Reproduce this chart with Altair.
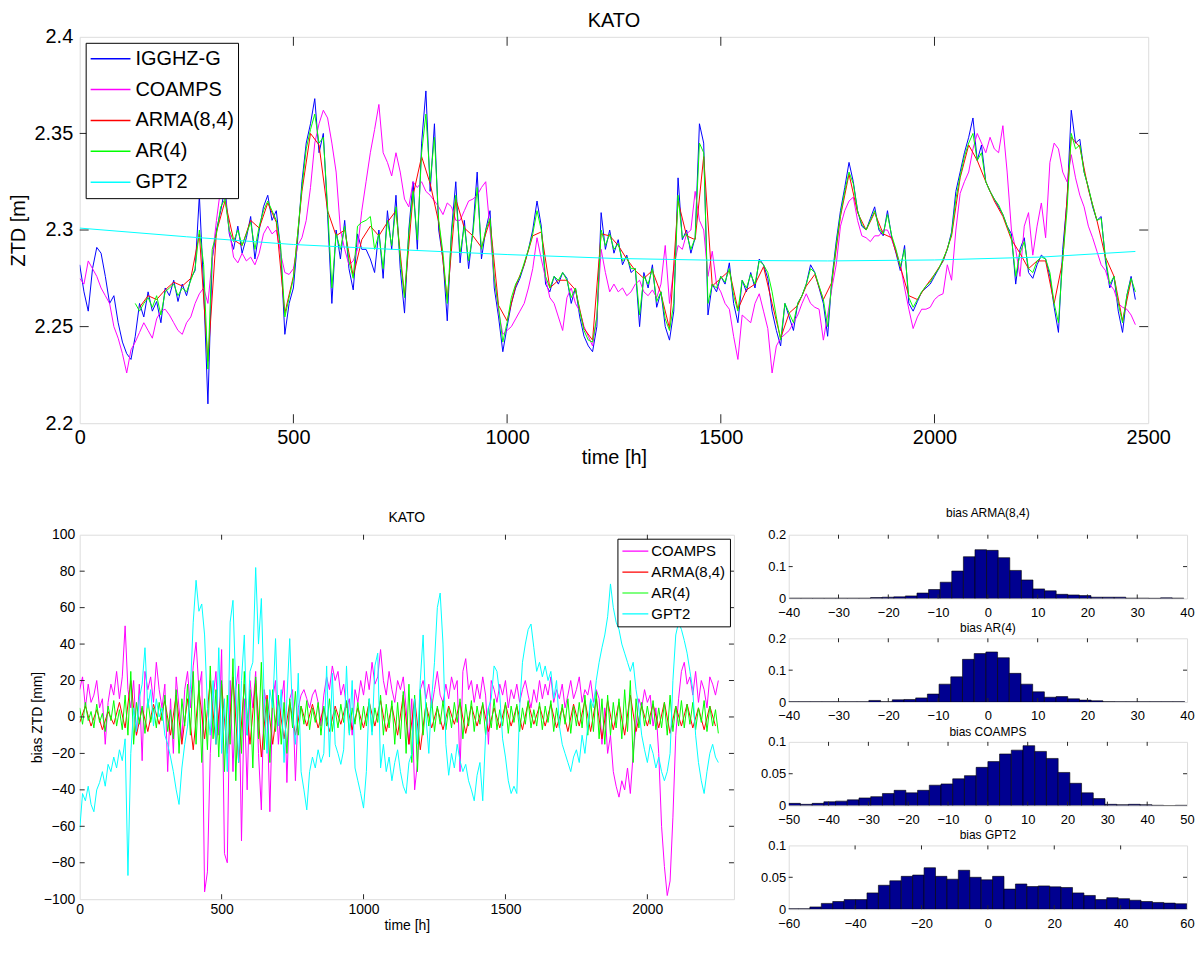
import altair as alt
import pandas as pd

# ---------------- top panel: ZTD [mm], 10 h steps ----------------
igg_start, igg_step = 0, 10
igg_mm = [
    2282, 2268, 2258, 2280, 2291, 2288, 2276, 2262, 2266, 2252,
    2242, 2236, 2233, 2245, 2262, 2255, 2268, 2258, 2263, 2252,
    2270, 2266, 2274, 2263, 2272, 2266, 2275, 2279, 2318, 2270,
    2210, 2285, 2300, 2310, 2322, 2298, 2290, 2302, 2288, 2296,
    2307, 2285, 2300, 2312, 2318, 2305, 2310, 2290, 2246, 2262,
    2270, 2295, 2325, 2345, 2355, 2368, 2340, 2350, 2308, 2262,
    2300, 2285, 2305, 2280, 2269, 2298, 2290, 2290, 2285, 2278,
    2300, 2275, 2310, 2290, 2318, 2280, 2257, 2300, 2325, 2290,
    2345, 2372, 2320, 2355, 2300, 2285, 2253, 2300, 2325, 2283,
    2305, 2280, 2300, 2330, 2285, 2300, 2310, 2270, 2255, 2237,
    2250, 2262, 2270, 2275, 2282, 2290, 2300, 2315, 2302, 2272,
    2268, 2276, 2272, 2278, 2275, 2262, 2270, 2255, 2245, 2240,
    2237, 2250, 2309, 2290, 2300, 2288, 2295, 2282, 2287, 2278,
    2280, 2250, 2278, 2270, 2282, 2260, 2268, 2250, 2243, 2258,
    2327, 2295, 2300, 2288, 2296, 2355, 2345, 2256, 2272, 2268,
    2276, 2272, 2283, 2262, 2252, 2274, 2268, 2278, 2270, 2285,
    2282, 2275, 2258, 2248, 2240, 2262, 2255, 2248, 2262, 2266,
    2272, 2282, 2278, 2270, 2262, 2245, 2275, 2294, 2310, 2322,
    2335, 2325, 2310, 2302, 2300, 2306, 2312, 2300, 2297, 2310,
    2296, 2288, 2279, 2292, 2262, 2258, 2263, 2268, 2270, 2272,
    2276, 2280, 2284, 2290, 2299, 2320, 2330, 2340, 2348, 2358,
    2336, 2344, 2325, 2320, 2316, 2312, 2308, 2302, 2298, 2272,
    2290, 2296, 2278, 2275, 2282, 2287, 2285, 2276, 2260, 2247,
    2290, 2315, 2362, 2345, 2347, 2330, 2322, 2312, 2305, 2307,
    2284, 2270, 2276, 2258, 2247, 2266, 2276, 2264,
]

coamps_start, coamps_step = 0, 10
coamps_mm = [
    2275, 2272, 2284, 2280, 2276, 2270, 2266, 2262, 2250, 2244,
    2236, 2226, 2238, 2242, 2247, 2252, 2248, 2244, 2254, 2258,
    2259, 2256, 2252, 2248, 2246, 2252, 2255, 2262, 2267, 2270,
    2262, 2285, 2305, 2322, 2318, 2300, 2286, 2283, 2288, 2284,
    2286, 2282, 2288, 2298, 2302, 2298, 2300, 2288, 2278, 2277,
    2280, 2292, 2296, 2305, 2322, 2345, 2355, 2362, 2358, 2345,
    2330, 2300, 2290, 2282, 2284, 2290, 2310, 2325, 2340, 2352,
    2365, 2340, 2335, 2328, 2340, 2330, 2316, 2312, 2325, 2322,
    2325, 2320, 2318, 2315, 2312, 2308, 2314, 2312, 2305, 2305,
    2310, 2315, 2316, 2318, 2322, 2325, 2300, 2275, 2258, 2246,
    2248, 2250, 2254, 2258, 2262, 2270, 2280, 2296, 2285, 2275,
    2265, 2262, 2255, 2248, 2265, 2270, 2262, 2258, 2250, 2245,
    2240, 2255, 2290, 2278, 2268, 2272, 2268, 2270, 2266, 2268,
    2272, 2274, 2268, 2266, 2269, 2265, 2272, 2292, 2262, 2280,
    2292, 2290, 2298, 2300, 2320, 2305, 2300, 2276, 2289, 2272,
    2268, 2262, 2259, 2245, 2233, 2256, 2254, 2252, 2262, 2267,
    2258, 2249, 2226, 2240, 2244, 2246, 2248, 2252, 2256, 2262,
    2267, 2262, 2260, 2259, 2243, 2256, 2270, 2282, 2302, 2310,
    2315, 2317, 2305, 2297, 2296, 2294, 2297, 2297, 2300, 2300,
    2295, 2289, 2282, 2270, 2259, 2249, 2255, 2259, 2259, 2260,
    2264, 2266, 2267, 2282, 2274, 2300, 2319, 2325, 2330, 2342,
    2350, 2345, 2340, 2348, 2342, 2340, 2354, 2330, 2300, 2290,
    2276, 2302, 2309, 2287, 2302, 2314, 2296, 2335, 2345, 2342,
    2330, 2325, 2339, 2327, 2318, 2312, 2302, 2296, 2289, 2282,
    2279, 2272, 2269, 2262, 2260, 2259, 2256, 2251,
]

arma_start, arma_step = 140, 20
arma_mm = [
    2260, 2266, 2264, 2269, 2273, 2271, 2275, 2298,
    2232, 2299, 2315, 2295, 2292, 2305, 2301, 2314, 2304, 2257,
    2276, 2320, 2350, 2344, 2310, 2297, 2300, 2276, 2295, 2302,
    2297, 2304, 2310, 2266, 2318, 2338, 2324, 2304, 2264, 2316,
    2301, 2297, 2291, 2305, 2261, 2253, 2271, 2282, 2297, 2299,
    2270, 2274, 2274, 2269, 2249, 2243, 2298, 2297, 2292, 2285,
    2279, 2275, 2279, 2267, 2249, 2315, 2297, 2295, 2338, 2271,
    2275, 2279, 2259, 2269, 2272, 2281, 2262, 2244, 2257, 2261,
    2271, 2277, 2264, 2273, 2307, 2329, 2309, 2300, 2309, 2298,
    2296, 2281, 2266, 2264, 2271, 2277, 2284, 2297, 2327, 2344,
    2336, 2325, 2315, 2307, 2295, 2288, 2280, 2284, 2284, 2262,
    2284, 2348, 2343, 2321, 2305, 2286, 2276, 2253, 2274,
]

ar_start, ar_step = 130, 10
ar_mm = [
    2262, 2258, 2262, 2265, 2260, 2266, 2256,
    2268, 2270, 2272, 2266, 2270, 2268, 2274, 2280, 2300, 2282,
    2228, 2290, 2298, 2312, 2316, 2300, 2294, 2300, 2292, 2298,
    2304, 2290, 2302, 2310, 2315, 2310, 2305, 2292, 2255, 2265,
    2275, 2298, 2322, 2342, 2352, 2360, 2345, 2348, 2312, 2270,
    2298, 2290, 2302, 2284, 2275, 2302, 2304, 2305, 2307, 2290,
    2298, 2280, 2305, 2292, 2312, 2285, 2265, 2298, 2320, 2295,
    2340, 2360, 2325, 2348, 2305, 2288, 2262, 2298, 2318, 2288,
    2302, 2284, 2298, 2322, 2290, 2300, 2306, 2275, 2260, 2242,
    2252, 2265, 2272, 2276, 2283, 2290, 2298, 2310, 2300, 2276,
    2270, 2276, 2274, 2278, 2274, 2265, 2270, 2258, 2248, 2243,
    2242, 2255, 2300, 2292, 2298, 2290, 2293, 2284, 2286, 2280,
    2280, 2256, 2276, 2272, 2280, 2263, 2268, 2254, 2248, 2262,
    2318, 2296, 2298, 2290, 2296, 2345, 2340, 2262, 2272, 2270,
    2276, 2273, 2280, 2266, 2258, 2274, 2270, 2277, 2272, 2284,
    2282, 2278, 2268, 2255, 2243, 2262, 2257, 2252, 2262, 2266,
    2272, 2280, 2278, 2271, 2264, 2250, 2274, 2292, 2308, 2320,
    2330, 2324, 2310, 2303, 2300, 2305, 2310, 2301, 2298, 2308,
    2297, 2290, 2281, 2290, 2265, 2260, 2264, 2268, 2271, 2273,
    2277, 2280, 2285, 2290, 2298, 2316, 2328, 2338, 2345, 2350,
    2336, 2340, 2325, 2320, 2316, 2313, 2308, 2302, 2296, 2276,
    2288, 2294, 2280, 2278, 2284, 2286, 2285, 2278, 2262, 2252,
    2285, 2310, 2350, 2342, 2344, 2330, 2322, 2313, 2305, 2306,
    2286, 2272, 2276, 2262, 2252, 2266, 2275, 2268,
]

gpt2_hours = [0, 250, 500, 750, 1000, 1250, 1500, 1750, 2000, 2250, 2470]
gpt2_mm = [2301.0, 2296.5, 2292.5, 2289.8, 2287.3, 2285.3, 2284.3, 2284.0, 2284.5, 2286.0, 2288.9]

# ---------------- bottom-left: bias ZTD [mm], 10 h steps ----------------
bias_start, bias_step = 0, 10
bias_coamps = [
    15, 22, 5, 18, 8, 12, 20, 5, 10, -15,
    8, 18, 12, 25, 10, 22, 50, 15, 5, 20,
    -10, 18, -24, 25, 15, 22, 8, 30, 15, 5,
    18, -30, 10, -20, 22, 5, -12, 15, 25, 5,
    28, 41, 15, 25, -96, -85, -20, 10, 25, -10,
    37, -75, -80, 20, -30, 15, 28, -68, 10, -40,
    20, 5, 25, -20, -51, 15, 5, -52, 10, 20,
    -15, 8, 20, -36, 10, 15, -35, 5, 12, 15,
    10, 5, 12, 15, 8, -5, 12, 22, 15, 28,
    20, 25, 12, 18, 5, 10, -10, 15, 8, 20,
    12, 25, 15, 30, 18, 22, 37, 20, 12, 25,
    15, 8, 20, 15, 22, 5, -15, 10, -40, -25,
    15, 20, 10, 18, 5, 15, 25, 12, 8, 18,
    10, 22, 15, 20, -30, 25, 32, 15, 20, 8,
    18, 10, 22, 12, -15, 20, 15, 8, 18, 12,
    20, 5, 15, 10, 18, 8, 15, 20, 12, 5,
    15, 8, 20, 10, 18, 12, 22, 8, 15, 10,
    18, 5, 12, 20, 10, 15, 22, 8, 15, 12,
    20, 8, 15, 10, -15, 5, -20, -10, -30, -38,
    -44, -35, -40, -28, -42, -20, -5, 10, 5, 15,
    8, 12, -5, 5, -20, -60, -82, -98, -90, -55,
    -10, 10, 25, 30, 18, 22, 12, 25, 8, 20,
    15, 5, 22, 18, 12, 20,
]

bias_arma_start, bias_arma_step = 0, 20
bias_arma = [
    -3, 6, -5, 4, -7, 3, -4, 8, -6, 20,
    -10, 5, -8, 7, -4, 9, -10, 12, -15, 10,
    -18, 15, -12, 20, -15, 18, -20, 22, -25, 18,
    -15, 20, -22, 12, -15, 10, -12, 8, -10, 6,
    -5, 7, -6, 5, -8, 6, -4, 8, -7, 5,
    -6, 8, -5, 9, -8, 6, -10, 12, -15, 10,
    -18, 7, -6, 5, -7, 6, -4, 8, -9, 6,
    -5, 7, -8, 5, -6, 7, -5, 6, -7, 8,
    -4, 6, -5, 7, -6, 5, -8, 7, -5, 9,
    -8, 10, -12, 9, -7, 8, -10, 12, -8, 6,
    -5, 7, -6, 8, -9, 6, -5, 7, -6, 5,
    -7, 6, -5,
]

bias_ar = [
    5, -4, 8, -2, 3, -6, 7, -3, 2, -8,
    6, -2, 9, -5, 4, -7, 12, -10, 25, -15,
    8, -4, 6, -9, 10, -3, 5, -6, 8, -2,
    12, -8, 4, -12, 15, -20, 10, -5, 18, -10,
    25, -15, 20, -25, 10, -18, 28, -12, 15, -22,
    20, -30, 12, -15, 32, -35, 18, -20, 25, -10,
    15, -28, 22, -12, 30, -18, 10, -25, 15, -8,
    12, -15, 8, -20, 10, -6, 14, -10, 6, -4,
    9, -7, 5, -3, 8, -10, 6, -5, 10, -8,
    4, -6, 7, -3, 9, -9, 5, -4, 8, -7,
    6, -5, 10, -8, 5, -3, 12, -10, 7, -6,
    9, -15, 8, -12, 14, -20, 18, -25, 12, -30,
    15, -10, 8, -5, 10, -8, 6, -4, 9, -7,
    5, -6, 8, -3, 10, -12, 7, -5, 9, -8,
    6, -4, 8, -10, 5, -6, 10, -7, 4, -5,
    8, -9, 6, -3, 7, -8, 5, -4, 9, -6,
    4, -5, 8, -7, 6, -3, 9, -8, 5, -6,
    7, -4, 10, -9, 6, -5, 8, -6, 12, -10,
    9, -8, 14, -12, 10, -15, 12, -10, 8, -6,
    10, -12, 15, -8, 20, -25, 10, -6, 8, -5,
    6, -4, 9, -7, 5, -6, 8, -10, 12, -8,
    6, -5, 9, -6, 7, -4, 8, -7, 5, -3,
    9, -8, 6, -5, 4, -9,
]

bias_gpt2 = [
    -62, -42, -46, -38, -48, -52, -40, -36, -30, -38,
    -26, -30, -22, -28, -18, -24, -12, -87, -20, 5,
    -8, 10, 18, 38, 5, 15, -5, 10, 0, 5,
    -10, -15, -22, -30, -40, -48, -28, -15, -5, 15,
    52, 75, 58, 62, 45, 5, -10, 20, -15, 38,
    -20, 10, -30, 52, 64, 15, -25, 20, 45, -10,
    25, 30, 82, 40, 65, 10, -20, 15, 5, 43,
    -5, 15, -25, 10, 43, 0, -15, 24, -30, -40,
    -51, -30, -22, -28, -18, -25, -20, 28, -22, 24,
    -15, -20, -26, -18, 28, -10, 20, -28, -35, -42,
    -50, -30, 10, -10, 28, 35, -28, -15, -30, -22,
    -35, -25, -18, -30, -38, -42, -25, -20, 10, -15,
    20, 45, 0, -20, 10, 30, 60, 68, 40, -15,
    -32, -20, -28, -15, -24, -30, -26, -35, -40, -46,
    -32, -25, -46, -10, 5, 10, 28, 25, 12, -12,
    -22, -35, -42, -38, -42, 5, 30, 40, 48, 51,
    38, 25, 30, 22, 28, 20, 25, 10, 20, -5,
    -15, -20, -25, -30, -22, -18, -25, -10, -20, -5,
    10, 5, 20, 30, 38, 45, 55, 73, 60, 52,
    48, 40, 35, 30, 25, 30, 15, 5, -10, -18,
    -25, -15, -20, -28, -22, -30, -35, -30, -20, 20,
    45, 52, 48, 42, 35, 25, 15, -10, -25, -35,
    -42, -30, -20, -15, -22, -25,
]

# ---------------- histograms (relative frequency) ----------------
hist_arma_start, hist_arma_width = -39.87, 2.33
hist_arma = [0.001, 0.001, 0.001, 0.001, 0.001, 0.001, 0.001, 0.003, 0.004, 0.005,
             0.008, 0.017, 0.028, 0.051, 0.086, 0.131, 0.153, 0.151, 0.128, 0.088,
             0.058, 0.030, 0.024, 0.013, 0.011, 0.009, 0.004, 0.004, 0.004, 0.001,
             0.001, 0.0005, 0.002, 0.001]
hist_ar_start, hist_ar_width = -40.35, 2.35
hist_ar = [0.0005, 0.0005, 0.0005, 0.0005, 0.0005, 0.0005, 0.0005, 0.005, 0.001, 0.007,
           0.008, 0.013, 0.025, 0.056, 0.079, 0.134, 0.152, 0.157, 0.139, 0.090,
           0.056, 0.032, 0.015, 0.017, 0.010, 0.006, 0.004, 0.001, 0.0005, 0.0005,
           0.0005, 0.0005, 0.0005, 0.0005]
hist_coamps_start, hist_coamps_width = -50.0, 2.941
hist_coamps = [0.0035, 0.002, 0.0035, 0.006, 0.007, 0.009, 0.012, 0.014, 0.019, 0.024,
               0.020, 0.024, 0.032, 0.034, 0.042, 0.047, 0.060, 0.069, 0.081, 0.087,
               0.094, 0.085, 0.074, 0.052, 0.035, 0.020, 0.011, 0.002, 0.0015, 0.002,
               0.0015, 0.0005, 0.0, 0.0005]
hist_gpt2_start, hist_gpt2_width = -60.5, 3.44
hist_gpt2 = [0.0005, 0.0005, 0.0035, 0.009, 0.012, 0.015, 0.015, 0.0255, 0.0375, 0.0445,
             0.0515, 0.0535, 0.065, 0.0515, 0.047, 0.061, 0.050, 0.046, 0.0515, 0.0315,
             0.0395, 0.0355, 0.0365, 0.035, 0.034, 0.0255, 0.0215, 0.015, 0.018, 0.0165,
             0.014, 0.012, 0.0105, 0.0095, 0.0085]

# ---------------- styling ----------------
F1 = "Liberation Sans, Arial, Helvetica, sans-serif"
F2 = "Liberation Sans Narrow, Arial Narrow, Liberation Sans, Arial, sans-serif"
FRAME = "#262626"


def series_df(start, step, values, name, scale=1.0):
    return pd.DataFrame({
        "x": [start + step * i for i in range(len(values))],
        "y": [v * scale for v in values],
        "series": name,
    })


def inner_ticks(xvals, yvals, xenc, yenc, w, h, length):
    """MATLAB-style ticks pointing inwards on all four sides of the frame."""
    dx = pd.DataFrame({"x": xvals})
    dy = pd.DataFrame({"y": yvals})
    rule = dict(color=FRAME, strokeWidth=1)
    return [
        alt.Chart(dx).mark_rule(**rule).encode(x=xenc, y=alt.value(0), y2=alt.value(length)),
        alt.Chart(dx).mark_rule(**rule).encode(x=xenc, y=alt.value(h - length), y2=alt.value(h)),
        alt.Chart(dy).mark_rule(**rule).encode(y=yenc, x=alt.value(0), x2=alt.value(length)),
        alt.Chart(dy).mark_rule(**rule).encode(y=yenc, x=alt.value(w - length), x2=alt.value(w)),
    ]


def axis(values, fmt, title, font, lsize, tsize, lpad, tpad, extent):
    kw = dict(values=values, format=fmt, labelFont=font, labelFontSize=lsize,
              labelPadding=lpad, labelFlush=False, labelOverlap=False, ticks=False,
              domain=False, grid=False, labelColor="black",
              minExtent=extent, maxExtent=extent)
    if title is None:
        kw["title"] = None
    else:
        kw.update(title=title, titleFont=font, titleFontSize=tsize, titleFontWeight="normal",
                  titlePadding=tpad, titleColor="black")
    return alt.Axis(**kw)


# ---------------- top chart ----------------
TW, TH = 1073, 388
top_names = ["IGGHZ-G", "COAMPS", "ARMA(8,4)", "AR(4)", "GPT2"]
top_colors = ["#0000FF", "#FF00FF", "#FF0000", "#00FF00", "#00FFFF"]

tx = alt.X("x:Q", scale=alt.Scale(domain=[0, 2500], nice=False, zero=False),
           axis=axis([0, 500, 1000, 1500, 2000, 2500], "d", "time [h]", F1, 20, 20, 4, 0, 24))
ty = alt.Y("y:Q", scale=alt.Scale(domain=[2.2, 2.4], nice=False, zero=False),
           axis=axis([2.2, 2.25, 2.3, 2.35, 2.4], "~g", "ZTD [m]", F1, 20, 20, 7, 4, 47))
tcolor = alt.Color("series:N", scale=alt.Scale(domain=top_names, range=top_colors),
                   legend=alt.Legend(orient="top-left", offset=6, title=None,
                                     symbolType="stroke", symbolSize=1600, symbolStrokeWidth=1.5,
                                     clipHeight=24, labelFont=F1, labelFontSize=20,
                                     labelColor="black", labelOffset=4, rowPadding=7, padding=4,
                                     strokeColor="black", fillColor="white", cornerRadius=0))

top_dfs = [
    series_df(igg_start, igg_step, igg_mm, "IGGHZ-G", 0.001),
    series_df(coamps_start, coamps_step, coamps_mm, "COAMPS", 0.001),
    series_df(arma_start, arma_step, arma_mm, "ARMA(8,4)", 0.001),
    series_df(ar_start, ar_step, ar_mm, "AR(4)", 0.001),
    pd.DataFrame({"x": gpt2_hours, "y": [v * 0.001 for v in gpt2_mm], "series": "GPT2"}),
]
top_layers = [alt.Chart(d).mark_line(strokeWidth=1, clip=True).encode(x=tx, y=ty, color=tcolor)
              for d in top_dfs]
top_layers += inner_ticks([500, 1000, 1500, 2000], [2.25, 2.3, 2.35], tx, ty, TW, TH, 9)
top = alt.layer(*top_layers).properties(
    width=TW, height=TH,
    title=alt.TitleParams("KATO", font=F1, fontSize=20, fontWeight="normal", color="black",
                          offset=-4))

# ---------------- bottom-left chart ----------------
BW, BH = 657, 366
b_names = ["COAMPS", "ARMA(8,4)", "AR(4)", "GPT2"]
b_colors = ["#FF00FF", "#FF0000", "#00FF00", "#00FFFF"]
bx = alt.X("x:Q", scale=alt.Scale(domain=[0, 2305], nice=False, zero=False),
           axis=axis([0, 500, 1000, 1500, 2000], "d", "time [h]", F2, 14, 14, 3, 1, 18))
by = alt.Y("y:Q", scale=alt.Scale(domain=[-100, 100], nice=False, zero=False),
           axis=axis(list(range(-100, 101, 20)), "d", "bias ZTD [mm]", F2, 14, 14, 5, 5, 30))
bcolor = alt.Color("series:N", scale=alt.Scale(domain=b_names, range=b_colors),
                   legend=alt.Legend(orient="top-right", offset=4, title=None,
                                     symbolType="stroke", symbolSize=676, symbolStrokeWidth=1.2,
                                     clipHeight=17, labelFont=F2, labelFontSize=15,
                                     labelColor="black", labelOffset=2, rowPadding=4, padding=4,
                                     strokeColor="black", fillColor="white", cornerRadius=0))
b_dfs = [
    series_df(bias_start, bias_step, bias_coamps, "COAMPS"),
    series_df(bias_arma_start, bias_arma_step, bias_arma, "ARMA(8,4)"),
    series_df(bias_start, bias_step, bias_ar, "AR(4)"),
    series_df(bias_start, bias_step, bias_gpt2, "GPT2"),
]
b_layers = [alt.Chart(d).mark_line(strokeWidth=1, clip=True).encode(x=bx, y=by, color=bcolor)
            for d in b_dfs]
b_layers += inner_ticks([500, 1000, 1500, 2000], list(range(-80, 81, 20)), bx, by, BW, BH, 5)
bottom_left = alt.layer(*b_layers).properties(
    width=BW, height=BH,
    title=alt.TitleParams("KATO", font=F2, fontSize=14, fontWeight="normal", color="black", offset=3))

# ---------------- histograms ----------------
HW, HH = 400, 64


def hist_chart(title, start, width, heights, xdom, xvals, ydom, yvals, toff):
    df = pd.DataFrame({
        "x": [start + width * i for i in range(len(heights))],
        "x2": [start + width * (i + 1) for i in range(len(heights))],
        "y": heights,
    })
    hx = alt.X("x:Q", scale=alt.Scale(domain=xdom, nice=False, zero=False),
               axis=axis(xvals, "d", None, F2, 13, 13, 8, 0, 22))
    hy = alt.Y("y:Q", scale=alt.Scale(domain=ydom, nice=False, zero=True),
               axis=axis(yvals, "~g", None, F2, 13, 13, 3, 0, 24))
    bars = alt.Chart(df).mark_rect(clip=True, color="#000090", stroke="black", strokeWidth=0.6).encode(
        x=hx, x2="x2:Q", y=hy, y2=alt.datum(0))
    layers = [bars] + inner_ticks(xvals[1:-1], yvals[1:-1], hx, hy, HW, HH, 4)
    return alt.layer(*layers).properties(
        width=HW, height=HH,
        title=alt.TitleParams(title, font=F2, fontSize=12, fontWeight="normal", color="black",
                              offset=toff))


h1 = hist_chart("bias ARMA(8,4)", hist_arma_start, hist_arma_width, hist_arma,
                [-40, 40], list(range(-40, 41, 10)), [0, 0.2], [0, 0.1, 0.2], 9)
h2 = hist_chart("bias AR(4)", hist_ar_start, hist_ar_width, hist_ar,
                [-40, 40], list(range(-40, 41, 10)), [0, 0.2], [0, 0.1, 0.2], -3)
h3 = hist_chart("bias COAMPS", hist_coamps_start, hist_coamps_width, hist_coamps,
                [-50, 50], list(range(-50, 51, 10)), [0, 0.1], [0, 0.05, 0.1], -3)
h4 = hist_chart("bias GPT2", hist_gpt2_start, hist_gpt2_width, hist_gpt2,
                [-60, 60], list(range(-60, 61, 20)), [0, 0.1], [0, 0.05, 0.1], -3)

hist_col = alt.vconcat(h1, h2, h3, h4, spacing=0)
bottom = alt.hconcat(bottom_left, hist_col, spacing=25).resolve_scale(
    color="independent").resolve_legend(color="independent")

chart = alt.vconcat(top, bottom, spacing=38).resolve_scale(
    color="independent").resolve_legend(color="independent").properties(
    padding={"left": 0, "top": 0, "right": 0, "bottom": 0}
).configure_view(stroke=FRAME, strokeWidth=1).configure(background="white")

chart.save("out.html", embed_options={"renderer": "svg", "actions": False})
